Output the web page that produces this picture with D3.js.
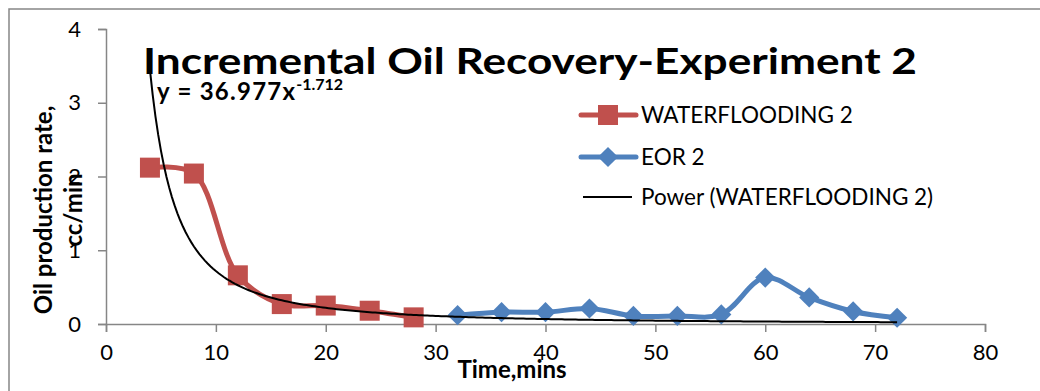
<!DOCTYPE html>
<html>
<head>
<meta charset="utf-8">
<script src="https://cdn.jsdelivr.net/npm/d3@7/dist/d3.min.js"></script>
<style>
  html, body { margin: 0; padding: 0; background: #fff; }
  svg { display: block; }
  text { font-family: Lato, "Open Sans", sans-serif; fill: #000; }
</style>
</head>
<body>
<svg id="chart" width="1040" height="391"></svg>
<script>
// Waterflooding stage (time in minutes, rate in cc/min)
const wfTime = [4, 8, 12, 16, 20, 24, 28];
const wfRate = [2.12, 2.04, 0.66, 0.27, 0.25, 0.18, 0.09];

// EOR stage
const eorTime = [32, 36, 40, 44, 48, 52, 56, 60, 64, 68, 72];
const eorRate = [0.12, 0.16, 0.16, 0.21, 0.11, 0.11, 0.13, 0.63, 0.36, 0.17, 0.085];

// Power trendline fitted to the waterflooding series: y = a * x^b
const trendCoef = [36.977, -1.712];
const trendRange = [4, 72];

const xTicks = [0, 10, 20, 30, 40, 50, 60, 70, 80];
const yTicks = [0, 1, 2, 3, 4];

const titleText = "Incremental Oil Recovery-Experiment 2";
const xTitle = "Time,mins";
const yTitleLines = ["Oil production rate,", "cc/min"];
const legendLabels = ["WATERFLOODING 2", "EOR 2", "Power (WATERFLOODING 2)"];

const RED = "#C0504D", BLUE = "#4F81BD", AXIS = "#868686";

const svg = d3.select("#chart");

// chart area frame (right and bottom edges fall outside the page)
svg.append("rect").attr("x", 9).attr("y", 9).attr("width", 1200).attr("height", 600)
  .attr("fill", "none").attr("stroke", AXIS).attr("stroke-width", 1.5);

const x = d3.scaleLinear().domain([0, 80]).range([106, 985]);
const y = d3.scaleLinear().domain([0, 4]).range([324, 29]);

// y axis
const yAxis = svg.append("g").attr("transform", `translate(${x(0)},0)`)
  .call(d3.axisLeft(y).tickValues(yTicks).tickSize(8).tickPadding(17).tickFormat(d3.format("d")));
yAxis.select(".domain").attr("stroke", AXIS).attr("stroke-width", 1.5);
yAxis.selectAll(".tick line").attr("stroke", AXIS).attr("stroke-width", 1.5);
yAxis.selectAll(".tick text").attr("font-size", 22).attr("font-family", "Lato").attr("fill", "#000");

// x axis
const xAxis = svg.append("g").attr("transform", `translate(0,${y(0)})`)
  .call(d3.axisBottom(x).tickValues(xTicks).tickSize(8).tickPadding(12).tickFormat(d3.format("d")));
xAxis.select(".domain").attr("stroke", AXIS).attr("stroke-width", 1.5);
xAxis.selectAll(".tick line").attr("stroke", AXIS).attr("stroke-width", 1.5);
xAxis.selectAll(".tick text").attr("font-size", 22).attr("font-family", "Lato").attr("fill", "#000");

// axis titles
svg.append("text").attr("x", 512).attr("y", 378).attr("text-anchor", "middle")
  .attr("font-size", 24).attr("font-weight", "bold").text(xTitle);

const yt = svg.append("text").attr("transform", "translate(52,210) rotate(-90)")
  .attr("text-anchor", "middle").attr("font-size", 24).attr("font-weight", "bold");
yt.append("tspan").attr("x", 0).attr("y", 0).text(yTitleLines[0]);
yt.append("tspan").attr("x", 0).attr("y", 30).text(yTitleLines[1]);

// series
const wfData = wfTime.map((t, i) => [t, wfRate[i]]);
const eorData = eorTime.map((t, i) => [t, eorRate[i]]);

const smooth = d3.line().x(d => x(d[0])).y(d => y(d[1])).curve(d3.curveCatmullRom.alpha(0.5));

svg.append("path").datum(wfData).attr("d", smooth)
  .attr("fill", "none").attr("stroke", RED).attr("stroke-width", 5).attr("stroke-linejoin", "round");
svg.append("path").datum(eorData).attr("d", smooth)
  .attr("fill", "none").attr("stroke", BLUE).attr("stroke-width", 5).attr("stroke-linejoin", "round");

const sq = 20;
svg.append("g").selectAll("rect").data(wfData).join("rect")
  .attr("x", d => x(d[0]) - sq / 2).attr("y", d => y(d[1]) - sq / 2)
  .attr("width", sq).attr("height", sq).attr("fill", RED);

const diamond = d3.symbol().type(d3.symbolDiamond2).size(260);
svg.append("g").selectAll("path").data(eorData).join("path")
  .attr("transform", d => `translate(${x(d[0])},${y(d[1])})`)
  .attr("d", diamond).attr("fill", BLUE);

// power trendline
const trendPts = d3.range(trendRange[0], trendRange[1] + 0.001, 0.25)
  .map(t => [t, trendCoef[0] * Math.pow(t, trendCoef[1])]);
svg.append("path").datum(trendPts)
  .attr("d", d3.line().x(d => x(d[0])).y(d => y(d[1])))
  .attr("fill", "none").attr("stroke", "#000").attr("stroke-width", 2);

// title and trendline equation
svg.append("text").attr("x", 143).attr("y", 74).attr("font-size", 37).attr("font-weight", "bold")
  .attr("textLength", 774).attr("lengthAdjust", "spacingAndGlyphs").text(titleText);

const eq = svg.append("text").attr("x", 157).attr("y", 100).attr("font-weight", "bold");
eq.append("tspan").attr("font-size", 24).attr("textLength", 138).attr("lengthAdjust", "spacing")
  .text(`y = ${trendCoef[0]}x`);
eq.append("tspan").attr("dy", -10).attr("font-size", 16).text(`${trendCoef[1]}`);

// legend
const lg = svg.append("g");
const rows = [115, 157, 197];
lg.append("line").attr("x1", 581).attr("x2", 636).attr("y1", rows[0]).attr("y2", rows[0])
  .attr("stroke", RED).attr("stroke-width", 5).attr("stroke-linecap", "round");
lg.append("rect").attr("x", 608 - sq / 2).attr("y", rows[0] - sq / 2).attr("width", sq).attr("height", sq).attr("fill", RED);
lg.append("line").attr("x1", 581).attr("x2", 636).attr("y1", rows[1]).attr("y2", rows[1])
  .attr("stroke", BLUE).attr("stroke-width", 5).attr("stroke-linecap", "round");
lg.append("path").attr("transform", `translate(608,${rows[1]})`).attr("d", diamond).attr("fill", BLUE);
lg.append("line").attr("x1", 583).attr("x2", 632).attr("y1", rows[2]).attr("y2", rows[2])
  .attr("stroke", "#000").attr("stroke-width", 2);
lg.selectAll("text").data(legendLabels).join("text")
  .attr("x", 641).attr("y", (d, i) => rows[i] + 8).attr("font-size", 22.5).text(d => d);
</script>
</body>
</html>
